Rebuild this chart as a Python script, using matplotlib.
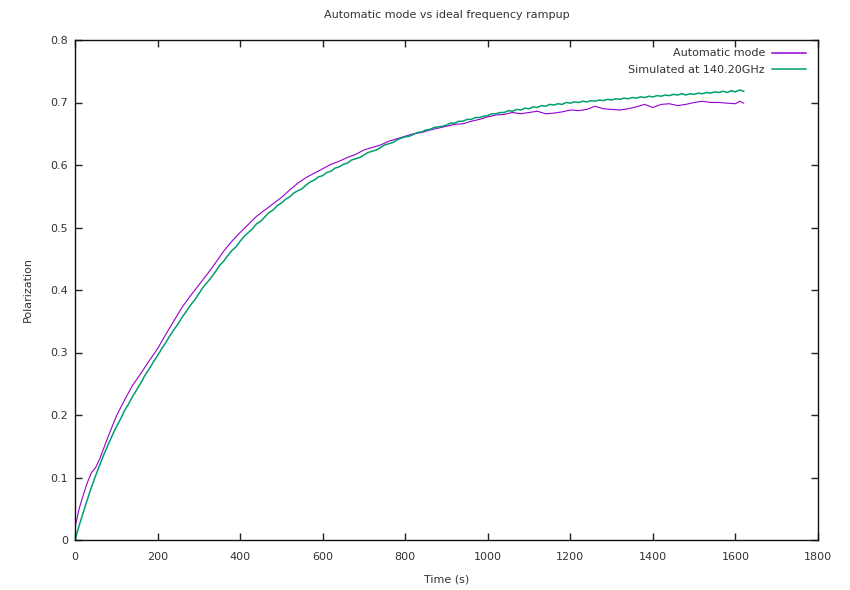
import matplotlib
matplotlib.use("Agg")
import matplotlib.pyplot as plt

# ---- data ----
title = "Automatic mode vs ideal frequency rampup"
xlabel = "Time (s)"
ylabel = "Polarization"
label_auto = "Automatic mode"
label_sim = "Simulated at 140.20GHz"

xticks = [0, 200, 400, 600, 800, 1000, 1200, 1400, 1600, 1800]
yticks = [0, 0.1, 0.2, 0.3, 0.4, 0.5, 0.6, 0.7, 0.8]
ytick_labels = ["0", "0.1", "0.2", "0.3", "0.4", "0.5", "0.6", "0.7", "0.8"]

t_auto = [0, 10, 20, 30, 40, 50, 60, 80, 100, 120, 140, 160, 180, 200, 220, 240,
          260, 280, 300, 320, 340, 360, 380, 400, 420, 440, 460, 480, 500, 520,
          540, 560, 580, 600, 620, 640, 660, 680, 700, 720, 740, 760, 780, 800,
          820, 840, 860, 880, 900, 920, 940, 960, 980, 1000, 1020, 1040, 1060,
          1080, 1100, 1120, 1140, 1160, 1180, 1200, 1220, 1240, 1260, 1280, 1300,
          1320, 1340, 1360, 1380, 1400, 1420, 1440, 1460, 1480, 1500, 1520, 1540,
          1560, 1580, 1600, 1610, 1620]
p_auto = [0.020, 0.050, 0.072, 0.092, 0.108, 0.116, 0.130, 0.165, 0.198, 0.224,
          0.248, 0.267, 0.287, 0.306, 0.329, 0.351, 0.373, 0.391, 0.408, 0.425,
          0.443, 0.462, 0.478, 0.492, 0.505, 0.518, 0.528, 0.538, 0.548, 0.560,
          0.571, 0.580, 0.587, 0.594, 0.601, 0.606, 0.612, 0.617, 0.624, 0.628,
          0.632, 0.638, 0.642, 0.646, 0.650, 0.652, 0.656, 0.659, 0.662, 0.665,
          0.666, 0.670, 0.673, 0.677, 0.680, 0.681, 0.684, 0.682, 0.684, 0.686,
          0.682, 0.683, 0.685, 0.688, 0.687, 0.689, 0.694, 0.690, 0.689, 0.688,
          0.690, 0.693, 0.697, 0.692, 0.697, 0.698, 0.695, 0.697, 0.700, 0.702,
          0.700, 0.700, 0.699, 0.698, 0.702, 0.699]

t_sim = list(range(0, 1630, 10))
p_sim = [0.000, 0.023, 0.044, 0.065, 0.085, 0.103, 0.120, 0.137, 0.152, 0.167,
         0.181, 0.193, 0.207, 0.218, 0.230, 0.241, 0.252, 0.264, 0.274, 0.285,
         0.295, 0.306, 0.316, 0.327, 0.337, 0.346, 0.357, 0.366, 0.376, 0.384,
         0.394, 0.404, 0.412, 0.420, 0.429, 0.439, 0.446, 0.455, 0.463, 0.469,
         0.478, 0.486, 0.492, 0.498, 0.506, 0.510, 0.517, 0.524, 0.528, 0.535,
         0.539, 0.545, 0.549, 0.555, 0.559, 0.562, 0.568, 0.573, 0.576, 0.581,
         0.583, 0.588, 0.590, 0.595, 0.597, 0.601, 0.603, 0.608, 0.610, 0.612,
         0.616, 0.620, 0.622, 0.624, 0.628, 0.632, 0.634, 0.636, 0.640, 0.643,
         0.645, 0.646, 0.649, 0.652, 0.653, 0.656, 0.657, 0.660, 0.661, 0.662,
         0.664, 0.667, 0.667, 0.670, 0.670, 0.673, 0.673, 0.676, 0.676, 0.678,
         0.679, 0.682, 0.682, 0.684, 0.684, 0.687, 0.686, 0.689, 0.688, 0.691,
         0.690, 0.693, 0.692, 0.695, 0.694, 0.697, 0.696, 0.698, 0.697, 0.700,
         0.699, 0.701, 0.700, 0.702, 0.701, 0.703, 0.702, 0.704, 0.703, 0.705,
         0.704, 0.706, 0.705, 0.707, 0.706, 0.708, 0.707, 0.709, 0.708, 0.710,
         0.709, 0.711, 0.710, 0.712, 0.711, 0.713, 0.712, 0.714, 0.712, 0.714,
         0.713, 0.715, 0.714, 0.716, 0.715, 0.717, 0.716, 0.718, 0.716, 0.719,
         0.717, 0.720, 0.718]

# ---- drawing ----
plt.rcParams['font.family'] = ['DejaVu Sans']
txt_color = '#333333'
fs = 8

fig = plt.figure(figsize=(8.5, 5.9), dpi=100)
ax = fig.add_axes([75/850, 50/590, 743/850, 500/590])

ax.plot(t_auto, p_auto, color='#9400d3', lw=0.8, label=label_auto)
ax.plot(t_sim, p_sim, color='#009e73', lw=1.1, label=label_sim)

ax.set_xlim(0, 1800)
ax.set_ylim(0, 0.8)
ax.set_xticks(xticks)
ax.set_xticklabels([str(v) for v in xticks])
ax.set_yticks(yticks)
ax.set_yticklabels(ytick_labels)
ax.tick_params(direction='in', length=5, width=1, top=True, right=True,
               labelsize=fs, labelcolor=txt_color, color='#222222')
ax.tick_params(axis='x', pad=9)
ax.tick_params(axis='y', pad=5)
for s in ax.spines.values():
    s.set_linewidth(1.0)
    s.set_color('#111111')

fig.text(446.5/850, 1 - 15/590, title, ha='center', va='center',
         fontsize=fs, color=txt_color)
fig.text(446.5/850, 1 - 580/590, xlabel, ha='center', va='center',
         fontsize=fs, color=txt_color)
fig.text(28/850, 1 - 290/590, ylabel, ha='center', va='center',
         rotation=90, fontsize=fs, color=txt_color)

leg = ax.legend(loc='upper right', bbox_to_anchor=(0.984, 0.983), frameon=False,
                markerfirst=False, fontsize=fs, handlelength=3.1,
                handletextpad=0.6, labelspacing=0.55, borderpad=0,
                borderaxespad=0)
for t in leg.get_texts():
    t.set_color(txt_color)
for h in leg.get_lines():
    h.set_linewidth(1.1)

fig.savefig("out.png", dpi=100)
